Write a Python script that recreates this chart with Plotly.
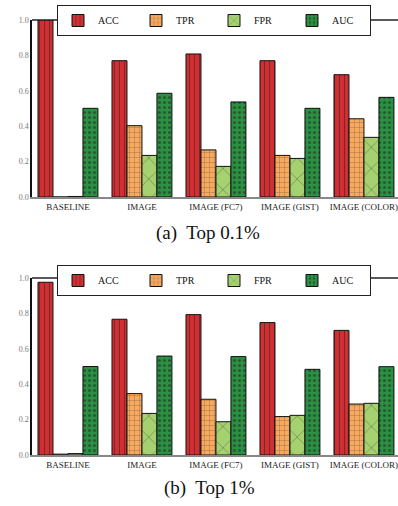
import plotly.graph_objects as go

categories = ["BASELINE", "IMAGE", "IMAGE (FC7)", "IMAGE (GIST)", "IMAGE (COLOR)"]
series_names = ["ACC", "TPR", "FPR", "AUC"]

# Top 0.1%
top01_acc = [0.999, 0.770, 0.808, 0.770, 0.691]
top01_tpr = [0.0, 0.403, 0.266, 0.235, 0.442]
top01_fpr = [0.003, 0.235, 0.173, 0.218, 0.337]
top01_auc = [0.501, 0.586, 0.537, 0.501, 0.563]

# Top 1%
top1_acc = [0.976, 0.767, 0.793, 0.748, 0.704]
top1_tpr = [0.005, 0.347, 0.315, 0.217, 0.288]
top1_fpr = [0.008, 0.235, 0.188, 0.224, 0.292]
top1_auc = [0.500, 0.559, 0.556, 0.484, 0.499]

colors = ["#d32f33", "#f7a95f", "#a6d170", "#2b9142"]
shapes = ["|", "+", "x", "."]
psizes = [5, 5, 15, 5]
solid = [0.22, 0.15, 0.08, 0.3]

W, H = 398, 506
SERIF = "Liberation Serif"

fig = go.Figure()

panels = [
    (["x", "y"], [top01_acc, top01_tpr, top01_fpr, top01_auc], "legend"),
    (["x2", "y2"], [top1_acc, top1_tpr, top1_fpr, top1_auc], "legend2"),
]
for (xa, ya), vals, leg in panels:
    for i, name in enumerate(series_names):
        fig.add_trace(go.Bar(
            x=categories, y=vals[i], name=name, xaxis=xa, yaxis=ya, legend=leg,
            marker=dict(color=colors[i],
                        line=dict(color="#111111", width=1),
                        pattern=dict(shape=shapes[i], fgcolor="#222222", bgcolor=colors[i],
                                     size=psizes[i], solidity=solid[i])),
        ))

def py(p):
    return 1 - p / H

xdom = [32 / W, 1.0]
xr = [-0.486, 4.46]
axis_x = dict(range=xr, domain=xdom, showline=True, linecolor="#888888", linewidth=1.5,
              ticks="", tickfont=dict(family=SERIF, size=9, color="#222222"), showgrid=False,
              zeroline=False, fixedrange=True, automargin=False)
axis_y = dict(range=[0, 1.0], showline=True, linecolor="#111111", linewidth=1.5,
              tickvals=[0, 0.2, 0.4, 0.6, 0.8, 1.0], tickformat=".1f", ticks="",
              tickfont=dict(family=SERIF, size=8, color="#777777"), showgrid=False,
              zeroline=False, fixedrange=True, automargin=False)

leg_common = dict(orientation="h", x=57 / W, xanchor="left", yanchor="top",
                  bgcolor="white", bordercolor="#222222", borderwidth=1,
                  font=dict(family=SERIF, size=10), entrywidth=33, itemwidth=30,
                  tracegroupgap=0)

fig.update_layout(
    width=W, height=H, margin=dict(l=0, r=0, t=0, b=0, autoexpand=False),
    paper_bgcolor="white", plot_bgcolor="white",
    barmode="group", bargap=0.19, bargroupgap=0.0,
    font=dict(family=SERIF, color="#111111"),
    xaxis=dict(axis_x, anchor="y"),
    yaxis=dict(axis_y, domain=[py(197), py(20)], anchor="x"),
    xaxis2=dict(axis_x, anchor="y2"),
    yaxis2=dict(axis_y, domain=[py(455), py(278)], anchor="x2"),
    legend=dict(leg_common, y=py(5)),
    legend2=dict(leg_common, y=py(265)),
    showlegend=True,
)

# top spines
for yref, xref in [("y domain", "x domain"), ("y2 domain", "x2 domain")]:
    fig.add_shape(type="line", xref=xref, yref=yref, x0=0, x1=1, y0=1, y1=1,
                  line=dict(color="#222222", width=1.5), layer="below")

fig.add_annotation(text="(a)  Top 0.1%", xref="paper", yref="paper", x=208 / W, y=py(233),
                   xanchor="center", yanchor="middle",
                   showarrow=False, font=dict(family=SERIF, size=19, color="#111111"))
fig.add_annotation(text="(b)  Top 1%", xref="paper", yref="paper", x=210 / W, y=py(488),
                   xanchor="center", yanchor="middle",
                   showarrow=False, font=dict(family=SERIF, size=19, color="#111111"))

fig.write_html("out.html", config={"displayModeBar": False},
               post_script="document.body.style.margin='0px';")
